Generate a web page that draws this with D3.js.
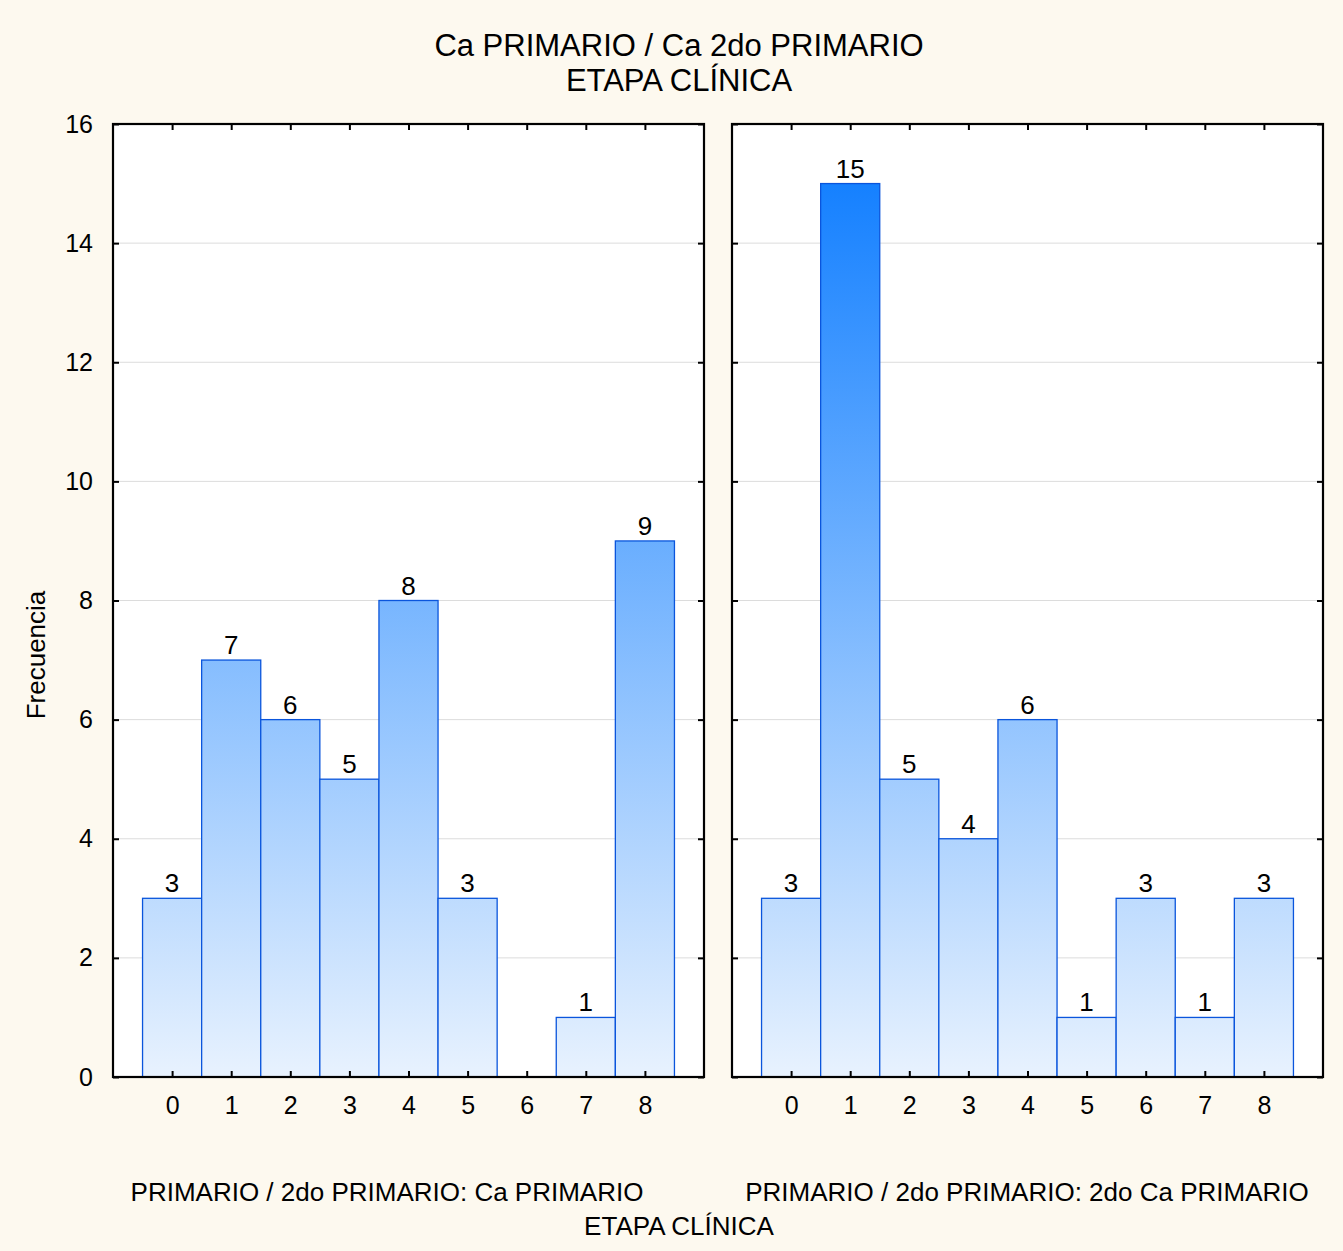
<!DOCTYPE html>
<html>
<head>
<meta charset="utf-8">
<script src="https://cdn.jsdelivr.net/npm/d3@7"></script>
<style>
  html, body { margin: 0; padding: 0; background: #fdf9ef; }
  svg { display: block; }
  text { font-family: "Liberation Sans", Arial, sans-serif; fill: #000; }
</style>
</head>
<body>
<script>
// Frequency of clinical stage (ETAPA CLÍNICA) per group
const stages = [0, 1, 2, 3, 4, 5, 6, 7, 8];
const primaryCounts = [3, 7, 6, 5, 8, 3, 0, 1, 9];
const secondPrimaryCounts = [3, 15, 5, 4, 6, 1, 3, 1, 3];
const panelLabels = [
  "PRIMARIO / 2do PRIMARIO: Ca PRIMARIO",
  "PRIMARIO / 2do PRIMARIO: 2do Ca PRIMARIO"
];
const yTicks = [0, 2, 4, 6, 8, 10, 12, 14, 16];
const titleLines = ["Ca PRIMARIO / Ca 2do PRIMARIO", "ETAPA CLÍNICA"];
const xTitle = "ETAPA CLÍNICA";
const yTitle = "Frecuencia";

const W = 1343, H = 1251;
const plotTop = 124, plotBottom = 1077;
const panels = [
  { x0: 113, x1: 704, values: primaryCounts, label: panelLabels[0], labelX: 387 },
  { x0: 732, x1: 1323, values: secondPrimaryCounts, label: panelLabels[1], labelX: 1027 }
];

const svg = d3.select("body").append("svg")
  .attr("width", W).attr("height", H);

svg.append("rect").attr("width", W).attr("height", H).attr("fill", "#fdf9ef");

const y = d3.scaleLinear().domain([0, 16]).range([plotBottom, plotTop]);

// Shared vertical gradient: colour depends on height within the plot
const defs = svg.append("defs");
const grad = defs.append("linearGradient")
  .attr("id", "barFill")
  .attr("gradientUnits", "userSpaceOnUse")
  .attr("x1", 0).attr("x2", 0)
  .attr("y1", y(16)).attr("y2", y(0));
grad.append("stop").attr("offset", "0%").attr("stop-color", "#0779ff");
grad.append("stop").attr("offset", "100%").attr("stop-color", "#e8f2fe");

panels.forEach((p, i) => {
  const x = d3.scaleLinear().domain([-1, 9]).range([p.x0, p.x1]);
  const bw = x(1) - x(0);
  const g = svg.append("g");

  // plot background
  g.append("rect")
    .attr("x", p.x0).attr("y", plotTop)
    .attr("width", p.x1 - p.x0).attr("height", plotBottom - plotTop)
    .attr("fill", "#ffffff");

  // horizontal grid
  g.selectAll("line.grid").data(yTicks.filter(t => t > 0 && t < 16)).join("line")
    .attr("class", "grid")
    .attr("x1", p.x0).attr("x2", p.x1)
    .attr("y1", d => y(d)).attr("y2", d => y(d))
    .attr("stroke", "#dcdcdc").attr("stroke-width", 1);

  // bars
  const data = stages.map((s, k) => ({ s, v: p.values[k] })).filter(d => d.v > 0);
  g.selectAll("rect.bar").data(data).join("rect")
    .attr("class", "bar")
    .attr("x", d => x(d.s) - bw / 2)
    .attr("y", d => y(d.v))
    .attr("width", bw)
    .attr("height", d => y(0) - y(d.v))
    .attr("fill", "url(#barFill)")
    .attr("stroke", "#0a55dc")
    .attr("stroke-width", 1.3);

  // value labels
  g.selectAll("text.val").data(data).join("text")
    .attr("class", "val")
    .attr("x", d => x(d.s))
    .attr("y", d => y(d.v) - 6)
    .attr("text-anchor", "middle")
    .attr("font-size", 26)
    .text(d => d.v);

  // inward ticks: bottom/top on stages, left/right on y values
  const xAxisB = d3.axisBottom(x).tickValues(stages).tickSizeInner(-6).tickSizeOuter(0).tickPadding(19).tickFormat(d3.format("d"));
  const xAxisT = d3.axisTop(x).tickValues(stages).tickSizeInner(-6).tickSizeOuter(0).tickFormat("");
  const yAxisL = d3.axisLeft(y).tickValues(yTicks).tickSizeInner(-6).tickSizeOuter(0).tickPadding(20).tickFormat(i === 0 ? d3.format("d") : "");
  const yAxisR = d3.axisRight(y).tickValues(yTicks).tickSizeInner(-6).tickSizeOuter(0).tickFormat("");

  const styleAxis = sel => {
    sel.select(".domain").remove();
    sel.selectAll(".tick line").attr("stroke", "#000").attr("stroke-width", 2);
    sel.selectAll(".tick text").attr("font-size", 25).attr("font-family", "Liberation Sans, Arial, sans-serif").attr("fill", "#000");
  };
  g.append("g").attr("transform", `translate(0,${plotBottom})`).call(xAxisB).call(styleAxis);
  g.append("g").attr("transform", `translate(0,${plotTop})`).call(xAxisT).call(styleAxis);
  g.append("g").attr("transform", `translate(${p.x0},0)`).call(yAxisL).call(styleAxis);
  g.append("g").attr("transform", `translate(${p.x1},0)`).call(yAxisR).call(styleAxis);

  // frame
  g.append("rect")
    .attr("x", p.x0).attr("y", plotTop)
    .attr("width", p.x1 - p.x0).attr("height", plotBottom - plotTop)
    .attr("fill", "none").attr("stroke", "#000").attr("stroke-width", 2.2);

  // panel caption
  svg.append("text")
    .attr("x", p.labelX).attr("y", 1201)
    .attr("text-anchor", "middle").attr("font-size", 26)
    .text(p.label);
});

// titles
svg.selectAll("text.title").data(titleLines).join("text")
  .attr("class", "title")
  .attr("x", 679).attr("y", (d, k) => 56 + k * 35)
  .attr("text-anchor", "middle").attr("font-size", 31)
  .text(d => d);

svg.append("text")
  .attr("x", 679).attr("y", 1235)
  .attr("text-anchor", "middle").attr("font-size", 26)
  .text(xTitle);

svg.append("text")
  .attr("transform", "translate(45,655) rotate(-90)")
  .attr("text-anchor", "middle").attr("font-size", 26)
  .text(yTitle);
</script>
</body>
</html>
